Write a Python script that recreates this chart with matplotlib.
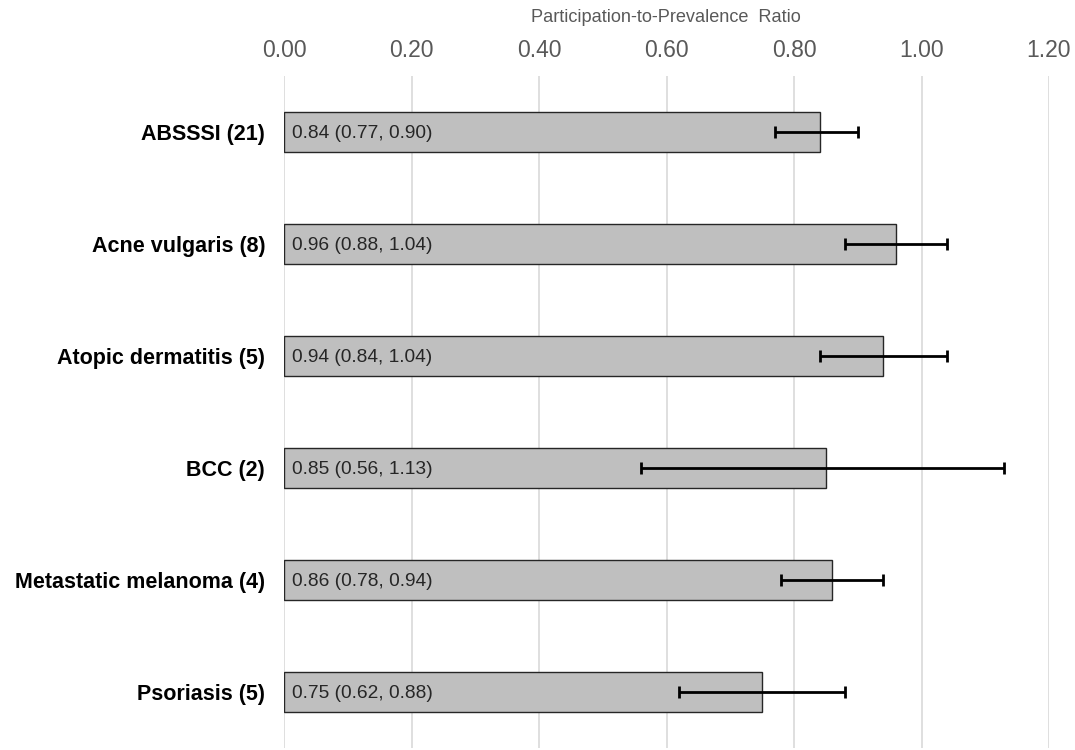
import matplotlib
matplotlib.use("Agg")
import matplotlib.pyplot as plt

categories = ["ABSSSI (21)", "Acne vulgaris (8)", "Atopic dermatitis (5)", "BCC (2)",
              "Metastatic melanoma (4)", "Psoriasis (5)"]
ratio = [0.84, 0.96, 0.94, 0.85, 0.86, 0.75]
ci_low = [0.77, 0.88, 0.84, 0.56, 0.78, 0.62]
ci_high = [0.90, 1.04, 1.04, 1.13, 0.94, 0.88]
ticks = [0.00, 0.20, 0.40, 0.60, 0.80, 1.00, 1.20]

plt.rcParams['font.family'] = ['Liberation Sans', 'DejaVu Sans']

fig = plt.figure(figsize=(10.75, 7.5), dpi=100)
ax = fig.add_axes([284/1075, 2/750, (1049-284)/1075, (748-76)/750])

y = list(range(len(categories)))
xerr = [[r - lo for r, lo in zip(ratio, ci_low)], [hi - r for r, hi in zip(ratio, ci_high)]]
ax.barh(y, ratio, height=0.36, color="#bfbfbf", edgecolor="#262626", linewidth=1.0, zorder=2)
ax.errorbar(ratio, y, xerr=xerr, fmt="none", ecolor="black", elinewidth=2,
            capsize=4.3, capthick=2, zorder=3)

for yi, r, lo, hi in zip(y, ratio, ci_low, ci_high):
    ax.text(0.012, yi, f"{r:.2f} ({lo:.2f}, {hi:.2f})", va="center_baseline", ha="left",
            fontsize=13.8, color="#262626", zorder=4)

ax.set_xlim(0, 1.2)
ax.set_ylim(len(categories) - 0.5, -0.5)
ax.set_xticks(ticks)
ax.set_xticklabels([f"{t:.2f}" for t in ticks])
ax.set_yticks(y)
ax.set_yticklabels(categories, fontweight="bold", fontsize=15.5, color="black")
ax.xaxis.tick_top()
ax.tick_params(axis="x", length=0, labelsize=16.5, labelcolor="#595959", pad=10)
ax.tick_params(axis="y", length=0, pad=13.5)
for s in ax.spines.values():
    s.set_visible(False)
ax.grid(axis="x", color="#d9d9d9", linewidth=1.2, zorder=0)
ax.set_axisbelow(True)

fig.text(666/1075, 1 - 18/750, "Participation-to-Prevalence  Ratio", ha="center", va="center",
         fontsize=13.1, color="#595959")

fig.savefig("out.png", dpi=100)
